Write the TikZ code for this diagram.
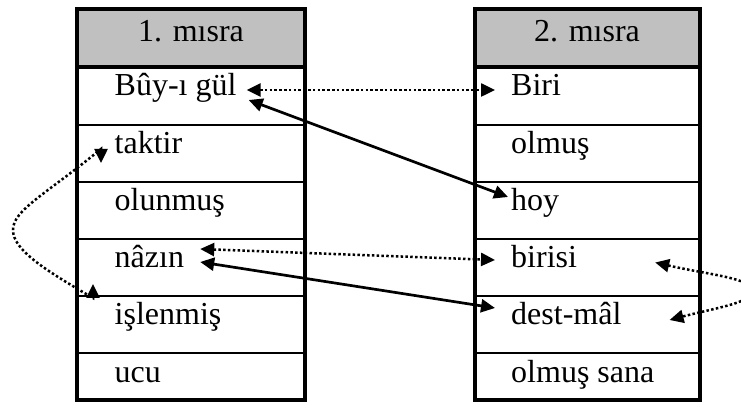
\documentclass[tikz,border=0pt]{standalone}
\usepackage{fontspec}
\setmainfont{Liberation Serif}
\usetikzlibrary{arrows.meta,calc}
\definecolor{hdrgray}{RGB}{192,192,192}
\begin{document}
\begin{tikzpicture}[x=1pt,y=-1pt,
  word/.style={anchor=base west,inner sep=0pt,font=\fontsize{32}{36}\selectfont},
  headword/.style={anchor=base,inner sep=0pt,font=\fontsize{32}{36}\selectfont},
  frame/.style={line width=4pt},
  headrule/.style={line width=3.4pt},
  rowrule/.style={line width=2.4pt},
  tipshape/.tip={Triangle[length=14pt,width=13pt]},
  dotlink/.style={line width=2.5pt,dash pattern=on 2.5pt off 2.3pt,tipshape-tipshape},
  solidlink/.style={line width=2.7pt,tipshape-tipshape}
]
\clip (0,0) rectangle (741,411);
\fill[white] (0,0) rectangle (741,411);

% two tables: header band, row rules, outer frame
\foreach \xl/\xr in {77/304.7,475/699.5}{
  \fill[hdrgray] (\xl,9.5) rectangle (\xr,67);
  \foreach \yy in {125,182,239,296,353}
    \draw[rowrule] (\xl,\yy) -- (\xr,\yy);
  \draw[headrule] (\xl,67) -- (\xr,67);
  \draw[frame] (\xl,9.5) rectangle (\xr,400);
}

% headers
\node[headword] (h1) at (191,42) {1. mısra};
\node[headword] (h2) at (587,42) {2. mısra};

% first line words
\node[word] (bu)  at (114.5,96)  {Bûy-ı gül};
\node[word] (tak) at (114.5,154) {taktir};
\node[word] (olu) at (114.5,211) {olunmuş};
\node[word] (naz) at (114.5,268) {nâzın};
\node[word] (isl) at (114.5,325) {işlenmiş};
\node[word] (ucu) at (114.5,382) {ucu};

% second line words
\node[word] (biri) at (511,96)  {Biri};
\node[word] (olm)  at (511,154) {olmuş};
\node[word] (hoy)  at (511,211) {hoy};
\node[word] (bir)  at (511,268) {birisi};
\node[word] (dest) at (511,325) {dest-mâl};
\node[word] (sana) at (511,382) {olmuş sana};

% straight links between the columns
\draw[dotlink]   ($(bu.base east)+(10,-6)$)   -- ($(biri.base west)+(-16,-6)$);
\draw[solidlink] ($(bu.base east)+(12,4)$)    -- ($(hoy.base west)+(-3,-14)$);
\draw[dotlink]   ($(naz.base east)+(16,-19)$) -- ($(bir.base west)+(-16,-8)$);
\draw[solidlink] ($(naz.base east)+(16,-6)$)  -- ($(dest.base west)+(-16,-17)$);

% curved link on the left: taktir <-> islenmis
\coordinate (lt) at ($(tak.base west)+(-13.5,9)$);
\coordinate (lb) at ($(isl.base west)+(-21.5,-41)$);
\draw[dotlink] (lt) -- ++(0,-14)
  .. controls (45,195) and (13,210) .. (13,230)
  .. controls (13,250) and (45,270) .. ($(lb)+(0,14)$) -- (lb);

% curved link on the right: birisi <-> dest-mal
\coordinate (rt) at ($(bir.base east)+(78,-5.5)$);
\coordinate (rb) at ($(dest.base east)+(48,-5)$);
\draw[dotlink] (rt) .. controls (710,275) and (752,278) .. (752,291)
  .. controls (752,303) and (715,308) .. (rb);
\end{tikzpicture}
\end{document}
